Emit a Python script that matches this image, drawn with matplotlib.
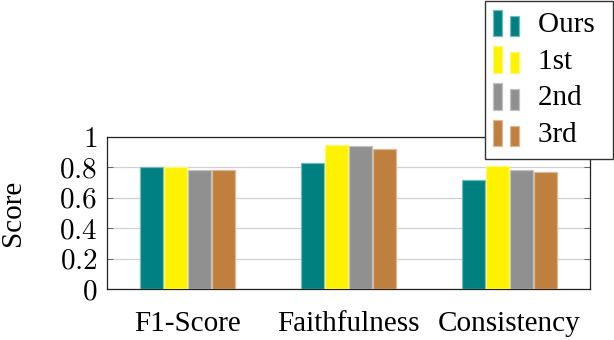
import matplotlib.pyplot as plt
import numpy as np
from matplotlib.legend_handler import HandlerBase
from matplotlib.patches import Rectangle
from matplotlib.colors import to_rgb

plt.rcParams['font.family'] = ['Liberation Serif', 'DejaVu Serif']
plt.rcParams['mathtext.fontset'] = 'cm'

# data
categories = ['F1-Score', 'Faithfulness', 'Consistency']
series = ['Ours', '1st', '2nd', '3rd']
ours = [0.80, 0.83, 0.72]
first = [0.80, 0.945, 0.81]
second = [0.78, 0.94, 0.78]
third = [0.78, 0.92, 0.77]
values = [ours, first, second, third]
colors = ['#008080', '#fff200', '#909090', '#bf7f3f']
yticks = [0, 0.2, 0.4, 0.6, 0.8, 1]
ytick_labels = ['0', '0.2', '0.4', '0.6', '0.8', '1']
FS = 21


def lighten(c, f=0.45):
    r, g, b = to_rgb(c)
    return (r + (1 - r) * f, g + (1 - g) * f, b + (1 - b) * f)


class TwoBars(HandlerBase):
    # pgfplots style ybar legend image: two small bars
    def create_artists(self, legend, orig_handle, xdescent, ydescent,
                       width, height, fontsize, trans):
        fc = orig_handle.get_facecolor()
        ec = orig_handle.get_edgecolor()
        px = 0.72
        x0 = -xdescent - 3 * px
        y0 = -ydescent - 0.2 * height
        bw = 9 * px
        r1 = Rectangle((x0, y0), bw, height * 1.3, facecolor=fc,
                       edgecolor=ec, linewidth=0.9, transform=trans)
        r2 = Rectangle((x0 + 17 * px, y0), bw, height * 1.0, facecolor=fc,
                       edgecolor=ec, linewidth=0.9, transform=trans)
        return [r1, r2]


fig = plt.figure(figsize=(6.14, 3.4), dpi=100)
ax = fig.add_axes([0.1743, 0.15, 0.7866, 0.447])

x = np.arange(len(categories))
bar_width = 0.142
step = 0.15
handles = []
for i, (name, vals, c) in enumerate(zip(series, values, colors)):
    pos = x + (i - 1.5) * step
    bars = ax.bar(pos, vals, bar_width, color=c, edgecolor=lighten(c),
                  linewidth=0.9, label=name, zorder=3)
    handles.append(bars.patches[0])

ax.set_xlim(-0.5, 2.5)
ax.set_ylim(0, 1)
ax.set_yticks(yticks)
ax.set_yticklabels(['$' + t + '$' for t in ytick_labels])
ax.set_xticks(x)
ax.set_xticklabels(categories)
ax.tick_params(axis='both', labelsize=FS, colors='black')
ax.tick_params(axis='y', direction='in', length=4, left=True, right=True,
               width=0.6, color='#555555', pad=7)
ax.tick_params(axis='x', length=0, pad=16)
ax.grid(True, axis='y', color='#d0d0d0', linewidth=0.9)
ax.set_axisbelow(True)
for s in ax.spines.values():
    s.set_linewidth(0.9)
    s.set_color('#222222')
ax.set_ylabel('Score', fontsize=FS)
ax.yaxis.set_label_coords(-0.167, 0.5)

# trailing space widens the box on the right like the pgfplots legend
fig.legend(handles, [s + ' ' for s in series], loc='upper right',
           bbox_to_anchor=(0.9985, 0.998),
           handler_map={h: TwoBars() for h in handles},
           fontsize=FS, frameon=True, fancybox=False, edgecolor='#333333',
           framealpha=1, handlelength=1.0, handletextpad=0.45,
           labelspacing=0.35, borderpad=0.38, borderaxespad=0)

fig.savefig('out.png', dpi=100)
